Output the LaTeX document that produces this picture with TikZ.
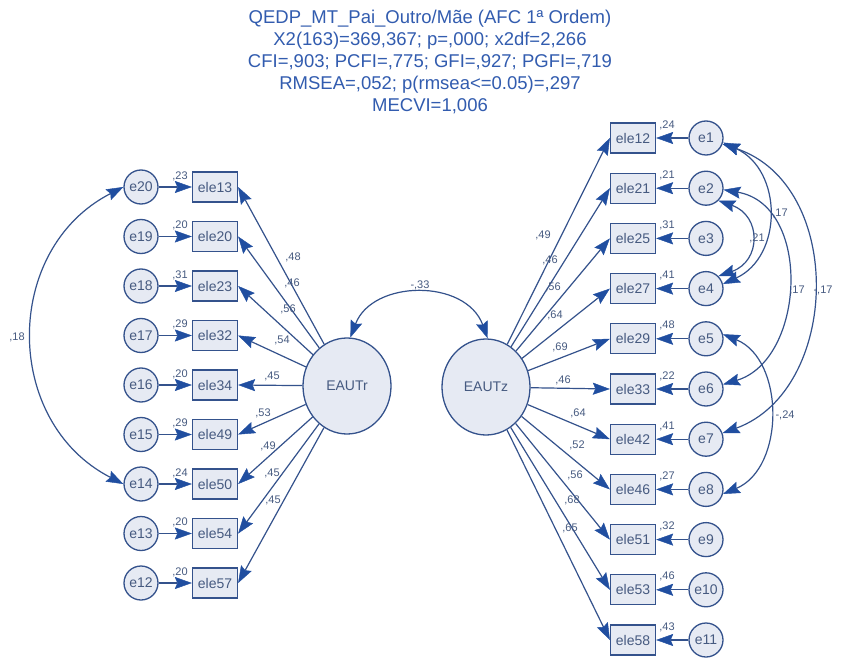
\documentclass[tikz,border=0pt]{standalone}
\usepackage{fontspec}
\setmainfont{Liberation Sans}
\usetikzlibrary{arrows.meta,shapes.geometric}
\definecolor{lc}{RGB}{52,82,140}
\definecolor{hc}{RGB}{32,78,160}
\definecolor{fc}{RGB}{230,234,243}
\definecolor{tc}{RGB}{70,90,128}
\definecolor{ttc}{RGB}{50,92,175}
\tikzset{
  hd/.tip={Stealth[length=17pt,width=12pt,inset=2.5pt,fill=hc,color=hc,line width=0.4pt]},
  base/.style={draw=lc, fill=fc, line width=1.3pt, inner sep=0pt, text=tc, font=\fontsize{14}{16}\selectfont},
  lat/.style={base, ellipse, minimum width=88pt, minimum height=96pt},
  err/.style={base, circle, minimum size=34pt},
  obs/.style={base, rectangle, minimum width=45pt, minimum height=30pt},
  arr/.style={draw=lc, line width=1.2pt, -hd},
  darr/.style={draw=lc, line width=1.2pt, hd-hd},
  lab/.style={font=\fontsize{11}{13}\selectfont, text=tc, inner sep=0pt},
}
\begin{document}
\begin{tikzpicture}[x=1pt,y=-1pt]
\path[use as bounding box, fill=white] (0,0) rectangle (848,660);

\node[align=center, text=ttc, font=\fontsize{18.5}{22}\selectfont] (title) at (430,62)
  {QEDP\_MT\_Pai\_Outro/Mãe (AFC 1ª Ordem)\\
   X2(163)=369,367; p=,000; x2df=2,266\\
   CFI=,903; PCFI=,775; GFI=,927; PGFI=,719\\
   RMSEA=,052; p(rmsea<=0.05)=,297\\
   MECVI=1,006};

% latent variables
\node[lat] (EAUTr) at (347,386) {EAUTr};
\node[lat] (EAUTz) at (486,387) {EAUTz};

% left side
\foreach \e/\b/\r [count=\i from 0] in {20/13/23,19/20/20,18/23/31,17/32/29,16/34/20,15/49/29,14/50/24,13/54/20,12/57/20}{
  \node[err] (e\e) at (141,{187+49.5*\i}) {e\e};
  \node[obs] (ele\b) at (215,{187+49.5*\i}) {ele\b};
  \node[lab] (r\b) at (180,{176+49.5*\i}) {,\r};
  \draw[arr] (e\e) -- (ele\b);
}

% right side
\foreach \e/\b/\r [count=\i from 0] in {1/12/24,2/21/21,3/25/31,4/27/41,5/29/48,6/33/22,7/42/41,8/46/27,9/51/32,10/53/46,11/58/43}{
  \node[err] (e\e) at (706,{138+50.2*\i}) {e\e};
  \node[obs] (ele\b) at (633,{138+50.2*\i}) {ele\b};
  \node[lab] (r\b) at (667,{125+50.2*\i}) {,\r};
  \draw[arr] (e\e) -- (ele\b);
}

% loadings EAUTr
\foreach \b/\v/\x/\y in {13/48/293/257,20/46/292/283,23/56/288/309,32/54/282/340,34/45/272/376,49/53/263/413,50/49/268/446,54/45/272/473,57/45/273/500}{
  \draw[arr] (EAUTr) -- (ele\b.east);
  \node[lab] (l\b) at (\x,\y) {,\v};
}

% loadings EAUTz
\foreach \b/\v/\x/\y in {12/49/543/235,21/46/550/260,25/56/553/287,27/64/555/315,29/69/560/347,33/46/563/380,42/64/578/413,46/52/577/445,51/56/575/475,53/68/572/500,58/65/570/528}{
  \draw[arr] (EAUTz) -- (ele\b.west);
  \node[lab] (l\b) at (\x,\y) {,\v};
}

% covariances
\draw[darr] (EAUTr.86) .. controls +(22,-58) and +(-22,-60) .. (EAUTz.88);
\node[lab] (c33) at (420,285) {-,33};

\draw[darr] (e20.west) .. controls +(-121,62) and +(-121,-62) .. (e14.west);
\node[lab] (c18) at (17,337) {,18};

\draw[darr] (e1.-15) .. controls +(60,27.5) and +(60,-27.5) .. (e4.15);
\node[lab] (c14) at (780,213) {,17};
\draw[darr] (e2.-45) .. controls +(43,15) and +(43,-15) .. (e4.45);
\node[lab] (c24) at (757,238) {,21};
\draw[darr] (e2.-5) .. controls +(89,15.5) and +(82,-24.5) .. (e6.15);
\node[lab] (c26) at (797,290) {,17};
\draw[darr] (e1.-20) .. controls +(123,41) and +(118,-43) .. (e7.20);
\node[lab] (c17) at (823,290) {-,17};
\draw[darr] (e5.15) .. controls +(62,25.5) and +(62,-26) .. (e8.-15);
\node[lab] (c58) at (785,415) {-,24};
\end{tikzpicture}
\end{document}
